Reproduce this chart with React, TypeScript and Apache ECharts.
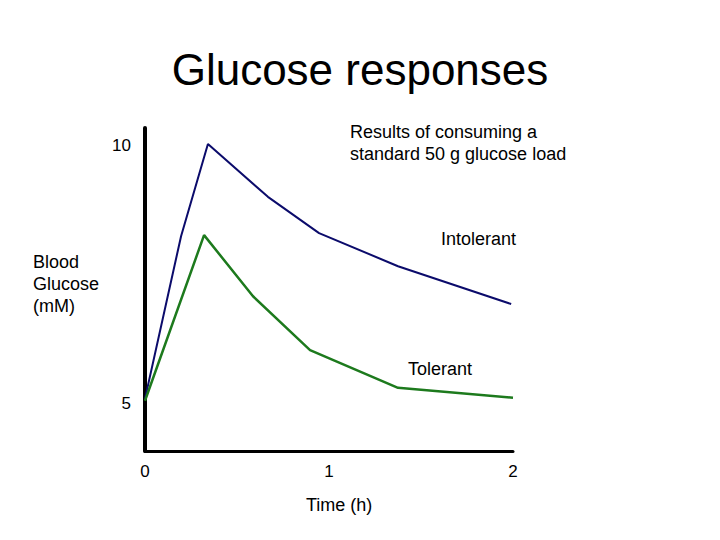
import React, { useEffect, useRef } from "react";
import * as echarts from "echarts";

const titleText = "Glucose responses";
const noteLines = ["Results of consuming a", "standard 50 g glucose load"];
const yAxisTitle = ["Blood", "Glucose", "(mM)"];
const xAxisTitle = "Time (h)";

// time (h), blood glucose (mM)
const intolerantTime = [0, 0.196, 0.342, 0.668, 0.946, 1.375, 1.99];
const intolerantValue = [5.1, 8.24, 10.02, 9.0, 8.3, 7.66, 6.93];
const tolerantTime = [0, 0.321, 0.587, 0.897, 1.375, 2.0];
const tolerantValue = [5.06, 8.26, 7.08, 6.04, 5.31, 5.12];

const seriesNames = ["Intolerant", "Tolerant"];
const yTickValues = [5, 10];
const xTickValues = [0, 1, 2];

const FONT = "'Liberation Sans', Arial, sans-serif";

export default function App() {
  const ref = useRef<HTMLDivElement>(null);
  useEffect(() => {
    if (!ref.current) return;
    const chart = echarts.init(ref.current, null, { renderer: "svg" });
    const pairs = (xs: number[], ys: number[]) => xs.map((x, i) => [x, ys[i]]);
    chart.setOption({
      animation: false,
      backgroundColor: "#ffffff",
      textStyle: { fontFamily: FONT },
      title: {
        text: titleText,
        left: "center",
        top: 42,
        textStyle: { fontSize: 44, fontWeight: "normal", color: "#000", fontFamily: FONT },
      },
      grid: { left: 145, right: 207, top: 128, bottom: 89, containLabel: false },
      xAxis: {
        type: "value",
        min: 0,
        max: 2,
        interval: 1,
        axisLine: { show: true, lineStyle: { color: "#000", width: 3 } },
        axisTick: { show: false },
        splitLine: { show: false },
        axisLabel: {
          color: "#000",
          fontSize: 17,
          margin: 12,
          fontFamily: FONT,
          formatter: (v: number) => (xTickValues.includes(v) ? String(v) : ""),
        },
      },
      yAxis: {
        type: "value",
        min: 4.09,
        max: 10.33,
        axisLine: { show: true, onZero: false, lineStyle: { color: "#000", width: 4 } },
        axisTick: { show: false },
        splitLine: { show: false },
        axisLabel: {
          color: "#000",
          fontSize: 17,
          margin: 14,
          fontFamily: FONT,
          customValues: yTickValues,
          formatter: (v: number) => String(v),
        },
      },
      series: [
        {
          name: seriesNames[0],
          type: "line",
          data: pairs(intolerantTime, intolerantValue),
          symbol: "none",
          lineStyle: { color: "#0b0b6b", width: 2 },
        },
        {
          name: seriesNames[1],
          type: "line",
          data: pairs(tolerantTime, tolerantValue),
          symbol: "none",
          lineStyle: { color: "#1d7a1d", width: 2.5 },
        },
      ],
      graphic: [
        {
          type: "text",
          left: 350,
          top: 121,
          style: {
            text: noteLines.join("\n"),
            fontSize: 18,
            lineHeight: 22,
            fill: "#000",
            fontFamily: FONT,
          },
        },
        {
          type: "text",
          left: 33,
          top: 251,
          style: {
            text: yAxisTitle.join("\n"),
            fontSize: 18,
            lineHeight: 22,
            fill: "#000",
            fontFamily: FONT,
          },
        },
        {
          type: "text",
          left: 306,
          top: 496,
          style: { text: xAxisTitle, fontSize: 18, fill: "#000", fontFamily: FONT },
        },
        {
          type: "text",
          left: 441,
          top: 230,
          style: { text: seriesNames[0], fontSize: 18, fill: "#000", fontFamily: FONT },
        },
        {
          type: "text",
          left: 408,
          top: 360,
          style: { text: seriesNames[1], fontSize: 18, fill: "#000", fontFamily: FONT },
        },
      ],
    });
    return () => chart.dispose();
  }, []);
  return <div ref={ref} style={{ width: 720, height: 540, position: "absolute", left: 0, top: 0 }} />;
}
